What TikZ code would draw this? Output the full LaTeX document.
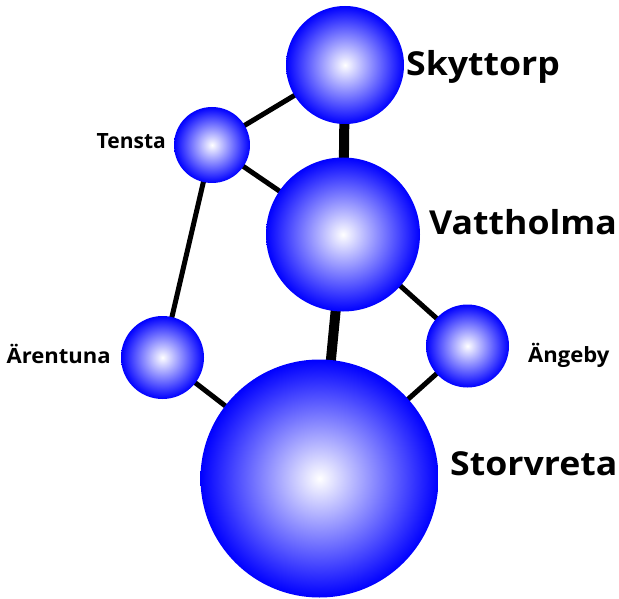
\documentclass[tikz,border=0pt]{standalone}
\usepackage{fontspec}
\setmainfont{Open Sans}
\newfontfamily\bigfam[FakeStretch=1.08]{Open Sans}
\newfontfamily\smallfam[FakeStretch=1.05]{Open Sans}
\usetikzlibrary{backgrounds}
\pgfdeclareradialshading{sphere}{\pgfpoint{0bp}{0bp}}{color(0bp)=(white); color(25bp)=(blue); color(50bp)=(blue)}
\tikzset{
  ball/.style={circle, inner sep=0pt, shading=sphere},
  thinedge/.style={line width=5pt, black},
  thickedge/.style={line width=10pt, black},
  biglabel/.style={font=\bigfam\fontsize{33}{33}\selectfont\bfseries, inner sep=0pt},
  smalllabel/.style={font=\smallfam\fontsize{21}{21}\selectfont\bfseries, inner sep=0pt}
}
\begin{document}
\begin{tikzpicture}[x=1pt, y=-1pt]
\useasboundingbox (0,0) rectangle (619,599);
\node[ball, minimum size=118pt] (sky) at (345,65) {};
\node[ball, minimum size=76pt] (ten) at (212,145) {};
\node[ball, minimum size=154pt] (vat) at (343,234.5) {};
\node[ball, minimum size=83pt] (are) at (162.5,357.5) {};
\node[ball, minimum size=83pt] (ang) at (467.5,346) {};
\node[ball, minimum size=238pt] (sto) at (319.5,478.5) {};
\begin{scope}[on background layer]
\draw[thinedge] (sky.center) -- (ten.center);
\draw[thickedge] (sky.center) -- (vat.center);
\draw[thinedge] (ten.center) -- (vat.center);
\draw[thinedge] (ten.center) -- (are.center);
\draw[thickedge] (vat.center) -- (sto.center);
\draw[thinedge] (vat.center) -- (ang.center);
\draw[thinedge] (are.center) -- (sto.center);
\draw[thinedge] (ang.center) -- (sto.center);
\end{scope}
\node[biglabel, anchor=base west] (lsky) at (406,76) {Skyttorp};
\node[biglabel, anchor=base west] (lvat) at (429,235) {Vattholma};
\node[biglabel, anchor=base west] (lsto) at (450,475.5) {Storvreta};
\node[smalllabel, font=\fontsize{21}{21}\selectfont\bfseries, anchor=base east] (lten) at (166,148.5) {Tensta};
\node[smalllabel, anchor=base east] (lare) at (111,363) {Ärentuna};
\node[smalllabel, anchor=base west] (lang) at (528,362) {Ängeby};
\end{tikzpicture}
\end{document}
